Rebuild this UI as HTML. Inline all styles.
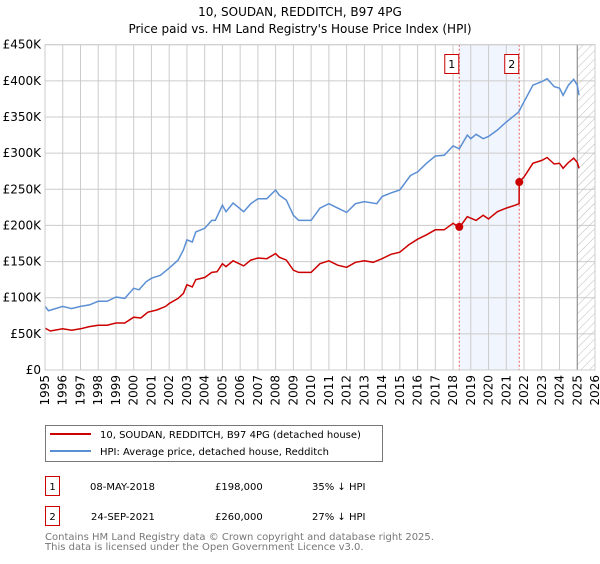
<!DOCTYPE html>
<html><head><meta charset="utf-8"><style>
body{margin:0;background:#fff;width:600px;height:560px;overflow:hidden;font-family:"DejaVu Sans","Liberation Sans",sans-serif;}
svg text{font-family:"DejaVu Sans","Liberation Sans",sans-serif;}
</style></head><body>
<svg id="chart" width="600" height="560" xmlns="http://www.w3.org/2000/svg">
<defs><pattern id="hatch" width="6" height="6" patternUnits="userSpaceOnUse" patternTransform="rotate(45)"><line x1="0" y1="0" x2="0" y2="6" stroke="#bbb" stroke-width="1"/></pattern></defs>
<text x="300" y="16" text-anchor="middle" font-size="12">10, SOUDAN, REDDITCH, B97 4PG</text>
<text x="300" y="33" text-anchor="middle" font-size="12">Price paid vs. HM Land Registry's House Price Index (HPI)</text>
<g id="grid"></g><g id="marks"></g><g id="axes"></g>
<g>
<rect x="45.5" y="425.5" width="337" height="36" fill="#fff" stroke="#777"/>
<line x1="50" y1="434" x2="91" y2="434" stroke="#cc0000" stroke-width="2"/>
<text x="100" y="438" font-size="10">10, SOUDAN, REDDITCH, B97 4PG (detached house)</text>
<line x1="50" y1="451" x2="91" y2="451" stroke="#5b8fd4" stroke-width="2"/>
<text x="100" y="455" font-size="10">HPI: Average price, detached house, Redditch</text>
</g>
<g font-size="10">
<rect x="45.5" y="476.5" width="14" height="19" fill="#fff" stroke="#cc0000"/><text x="52.5" y="490" text-anchor="middle">1</text>
<text x="90" y="490">08-MAY-2018</text><text x="215" y="490">£198,000</text><text x="312" y="490">35% ↓ HPI</text>
<rect x="45.5" y="506.5" width="14" height="19" fill="#fff" stroke="#cc0000"/><text x="52.5" y="520" text-anchor="middle">2</text>
<text x="91" y="520">24-SEP-2021</text><text x="215" y="520">£260,000</text><text x="312" y="520">27% ↓ HPI</text>
</g>
<text x="45" y="540" font-size="10" fill="#777">Contains HM Land Registry data © Crown copyright and database right 2025.</text>
<text x="45" y="550" font-size="10" fill="#777">This data is licensed under the Open Government Licence v3.0.</text>
</svg>
<script>
const hpiYears=[1995,1995.2,1996,1996.5,1997,1997.5,1998,1998.5,1999,1999.5,2000,2000.3,2000.7,2001,2001.5,2002,2002.5,2002.8,2003,2003.3,2003.5,2004,2004.4,2004.6,2005,2005.2,2005.6,2006.2,2006.6,2007,2007.5,2008,2008.2,2008.6,2009,2009.3,2009.7,2010,2010.5,2011,2011.5,2012,2012.5,2013,2013.7,2014,2014.5,2015,2015.6,2016,2016.5,2017,2017.5,2018,2018.35,2018.8,2019,2019.3,2019.7,2020,2020.5,2021,2021.5,2021.7,2022,2022.5,2023,2023.3,2023.7,2024,2024.2,2024.5,2024.8,2025,2025.1];
const hpiValues=[88,82,88,85,88,90,95,95,101,99,113,111,122,127,131,141,152,166,180,177,191,196,207,207,228,219,231,219,230,237,237,249,242,235,214,207,207,207,224,230,224,218,230,233,230,240,245,249,269,274,286,296,297,310,306,325,320,326,320,323,332,343,353,357,371,394,399,403,392,390,380,394,402,394,380];
const priceYears=[1995,1995.3,1996,1996.5,1997,1997.5,1998,1998.5,1999,1999.5,2000,2000.4,2000.8,2001.3,2001.8,2002,2002.5,2002.8,2003,2003.3,2003.5,2004,2004.4,2004.7,2005,2005.2,2005.6,2006.2,2006.6,2007,2007.5,2008,2008.2,2008.6,2009,2009.3,2009.7,2010,2010.5,2011,2011.5,2012,2012.5,2013,2013.5,2014,2014.5,2015,2015.5,2016,2016.5,2017,2017.5,2018,2018.35,2018.8,2019.3,2019.7,2020,2020.5,2021,2021.5,2021.72,2021.73,2022,2022.5,2023,2023.3,2023.7,2024,2024.2,2024.5,2024.8,2025,2025.1];
const priceValues=[58,54,57,55,57,60,62,62,65,65,73,72,80,83,88,92,99,106,118,115,125,128,135,136,147,143,151,144,152,155,154,161,156,152,138,135,135,135,147,151,145,142,149,151,149,154,160,163,173,181,187,194,194,203,197,212,207,214,209,219,224,228,230,260,267,286,290,294,285,286,279,287,293,287,279];
const saleYears=[2018.35,2021.73];
const saleValues=[198,260];
const saleLabels=["1","2"];
const yTicks=[0,50,100,150,200,250,300,350,400,450];
const yTickLabels=["£0","£50K","£100K","£150K","£200K","£250K","£300K","£350K","£400K","£450K"];
const xTicks=[1995,1996,1997,1998,1999,2000,2001,2002,2003,2004,2005,2006,2007,2008,2009,2010,2011,2012,2013,2014,2015,2016,2017,2018,2019,2020,2021,2022,2023,2024,2025,2026];

const X0=45,X1=595,Y0=370,Y1=44.7;
const xs=v=>X0+(v-1995)*(X1-X0)/31;
const ys=v=>Y0-v*(Y0-Y1)/450;
const NS="http://www.w3.org/2000/svg";
function mk(tag,attrs,parent,txt){const e=document.createElementNS(NS,tag);for(const k in attrs)e.setAttribute(k,attrs[k]);if(txt!=null)e.textContent=txt;parent.appendChild(e);return e;}
const grid=document.getElementById('grid'),marks=document.getElementById('marks'),axes=document.getElementById('axes');
let el;
el=mk('rect',{x:xs(saleYears[0]),y:Y1,width:xs(saleYears[1])-xs(saleYears[0]),height:Y0-Y1,fill:'#eef3fc',opacity:0.8},grid);


yTicks.forEach((t,i)=>{
 el=mk('line',{x1:X0,x2:X1,y1:ys(t),y2:ys(t),stroke:'#cccccc'},grid);
 
 
 el=mk('text',{x:X0-4,y:ys(t)+4,'text-anchor':'end','font-size':12},axes,yTickLabels[i]);
 
 
});
xTicks.forEach(t=>{
 el=mk('line',{x1:xs(t),x2:xs(t),y1:Y1,y2:Y0,stroke:'#cccccc'},grid);
 
 
 el=mk('text',{x:0,y:0,'font-size':12,'text-anchor':'end',transform:`translate(${xs(t)+4},375) rotate(-90)`},axes,String(t));
 
 
});
el=mk('rect',{x:xs(2025),y:Y1,width:X1-xs(2025),height:Y0-Y1,fill:'url(#hatch)'},grid);


el=mk('line',{x1:xs(2025),x2:xs(2025),y1:Y1,y2:Y0,stroke:'#888'},grid);


saleYears.forEach((y,i)=>{
 el=mk('line',{x1:xs(y),x2:xs(y),y1:Y1,y2:Y0,stroke:'#e06060','stroke-dasharray':'2,2'},grid);
 
 
 el=mk('rect',{x:xs(y)-14.5,y:54.5,width:14,height:19,fill:'#fff',stroke:'#cc0000'},marks);
 
 
 el=mk('text',{x:xs(y)-7.5,y:68,'text-anchor':'middle','font-size':11},marks,saleLabels[i]);
 
 
});
const path=(ax,ay)=>ax.map((v,i)=>(i?'L':'M')+xs(v).toFixed(1)+','+ys(ay[i]).toFixed(1)).join('');
el=mk('path',{d:path(hpiYears,hpiValues),fill:'none',stroke:'#5b8fd4','stroke-width':1.5},marks);


el=mk('path',{d:path(priceYears,priceValues),fill:'none',stroke:'#cc0000','stroke-width':1.5},marks);


saleYears.forEach((y,i)=>{
 el=mk('circle',{cx:xs(y),cy:ys(saleValues[i]),r:4,fill:'#cc0000'},marks);
 
 
});
el=mk('rect',{x:X0,y:Y1,width:X1-X0,height:Y0-Y1,fill:'none',stroke:'#cccccc'},axes);


</script>
</body></html>
